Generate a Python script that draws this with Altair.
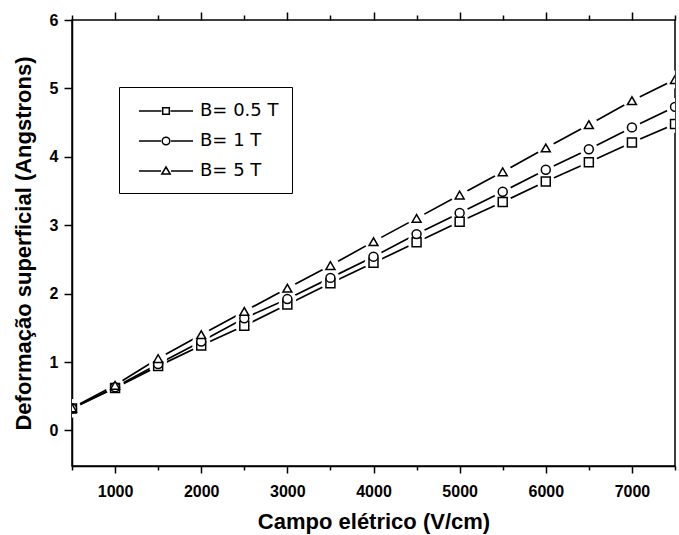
import altair as alt
import pandas as pd

# Electric field (V/cm)
campo = [500, 1000, 1500, 2000, 2500, 3000, 3500, 4000,
         4500, 5000, 5500, 6000, 6500, 7000, 7500]

# Surface deformation (Angstroms) for each magnetic field
b_05 = [0.32, 0.62, 0.94, 1.24, 1.53, 1.84, 2.15, 2.45,
        2.75, 3.05, 3.34, 3.64, 3.92, 4.21, 4.48]
b_1 = [0.32, 0.63, 0.97, 1.30, 1.64, 1.92, 2.23, 2.54,
       2.87, 3.18, 3.49, 3.81, 4.11, 4.43, 4.73]
b_5 = [0.33, 0.66, 1.05, 1.40, 1.74, 2.08, 2.41, 2.76,
       3.10, 3.44, 3.78, 4.13, 4.47, 4.82, 5.13]

series_names = ["B= 0.5 T", "B= 1 T", "B= 5 T"]
x_ticks = [500, 1000, 1500, 2000, 2500, 3000, 3500, 4000,
           4500, 5000, 5500, 6000, 6500, 7000, 7500]
y_ticks = [0, 0.5, 1, 1.5, 2, 2.5, 3, 3.5, 4, 4.5, 5, 5.5, 6]

rows = []
for name, vals in zip(series_names, [b_05, b_1, b_5]):
    for xv, yv in zip(campo, vals):
        rows.append({"campo": xv, "deform": yv, "serie": name})
df = pd.DataFrame(rows)

FONT = "Liberation Sans"

x_scale = alt.Scale(domain=[500, 7500], nice=False, zero=False)
y_scale = alt.Scale(domain=[-0.52, 6], nice=False, zero=False)

x_axis = alt.Axis(
    orient="bottom",
    values=x_ticks,
    title="Campo elétrico (V/cm)",
    labelExpr="datum.value % 1000 === 0 ? datum.label : ''",
    format="d",
    tickSize={"condition": {"test": "datum.value % 1000 === 0", "value": 7}, "value": 4},
    labelPadding=10,
    titlePadding=12,
    grid=False,
)
y_axis = alt.Axis(
    values=y_ticks,
    title="Deformação superficial (Angstrons)",
    format=".0f",
    labelExpr="datum.value % 1 === 0 ? datum.label : ''",
    tickSize={"condition": {"test": "datum.value % 1 === 0", "value": 8}, "value": 5},
    labelPadding=6,
    titlePadding=14,
    grid=False,
)
top_axis = alt.Axis(
    orient="top",
    values=x_ticks,
    labels=False,
    title=None,
    domain=False,
    tickSize={"condition": {"test": "datum.value % 1000 === 0", "value": 8}, "value": 5},
    grid=False,
)

base = alt.Chart(df)
shape_sort = series_names
x_plain = alt.X("campo:Q", scale=x_scale, axis=None)

lines = base.mark_line(color="black", strokeWidth=1.7, clip=True).encode(
    x=alt.X("campo:Q", scale=x_scale, axis=x_axis),
    y=alt.Y("deform:Q", scale=y_scale, axis=y_axis),
    detail="serie:N",
)

# white discs leave a small gap in the lines around each marker
halos = base.mark_point(filled=True, color="white", fill="white", opacity=1,
                        size=320, shape="circle", clip=True).encode(
    x=x_plain, y="deform:Q",
)

markers = base.mark_point(filled=False, color="black", fill="white", fillOpacity=1,
                          strokeWidth=1.5, size=80, opacity=1, clip=True).encode(
    x=x_plain, y="deform:Q",
    shape=alt.Shape("serie:N", sort=shape_sort,
                    scale=alt.Scale(domain=series_names,
                                    range=["square", "circle", "triangle-up"]),
                    legend=None),
)

# legend symbols: a line with the marker in its middle
legend_paths = [
    "M-2.7,0H-0.45M0.45,0H2.7M-0.33,-0.33H0.33V0.33H-0.33Z",
    "M-2.7,0H-0.5M0.5,0H2.7M0.38,0A0.38,0.38 0 1,1 -0.38,0A0.38,0.38 0 1,1 0.38,0Z",
    "M-2.7,0H-0.5M0.5,0H2.7M0,-0.4L0.42,0.3L-0.42,0.3Z",
]
legend_layer = base.mark_point(filled=False, color="black", opacity=0, clip=True).encode(
    x=x_plain, y="deform:Q",
    shape=alt.Shape("serie:N", sort=shape_sort,
                    scale=alt.Scale(domain=series_names, range=legend_paths),
                    legend=alt.Legend(
                        title=None, orient="none", legendX=47, legendY=67,
                        padding=13, strokeColor="black", fillColor="white",
                        symbolSize=400, symbolOpacity=1, symbolStrokeColor="black",
                        symbolFillColor="white", symbolStrokeWidth=1.5,
                        symbolOffset=23, labelOffset=23, rowPadding=10,
                        labelFont="DejaVu Sans", labelFontSize=18,
                        labelColor="black", labelFontWeight="normal",
                    )),
)

top_ticks = alt.Chart(df).mark_point(opacity=0).encode(
    x=alt.X("campo:Q", scale=x_scale, axis=top_axis),
    y=alt.Y("deform:Q", scale=y_scale),
)

chart = alt.layer(lines, halos, markers, legend_layer, top_ticks).resolve_scale(
    shape="independent"
).resolve_axis(x="independent").properties(
    width=603, height=446,
    autosize=alt.AutoSizeParams(type="none"),
    padding={"left": 72, "top": 20, "right": 4, "bottom": 69},
    background="white",
).configure_view(
    stroke="black", strokeWidth=1.5,
).configure_axis(
    domainColor="black", domainWidth=1.5, tickColor="black", tickWidth=1.5,
    labelFont=FONT, labelFontSize=16, labelFontWeight="bold", labelColor="black",
    titleFont=FONT, titleFontSize=22, titleFontWeight="bold", titleColor="black",
)

chart.save("out.html", embed_options={"renderer": "svg", "actions": False})
